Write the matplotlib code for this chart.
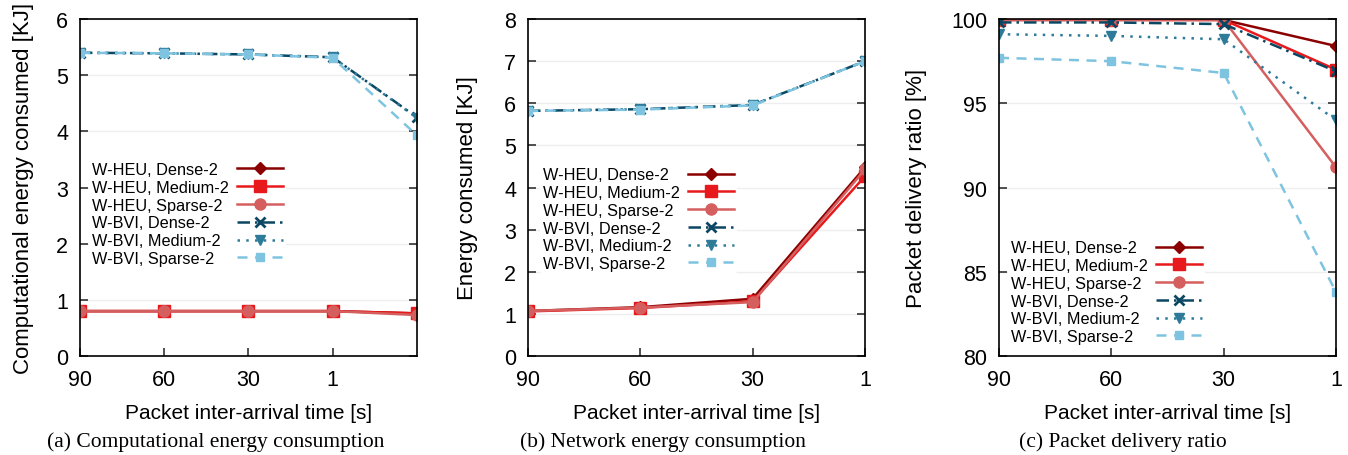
import matplotlib
matplotlib.use('Agg')
import matplotlib.pyplot as plt

plt.rcParams['font.family'] = ['Liberation Sans', 'DejaVu Sans']

labels = ['W-HEU, Dense-2', 'W-HEU, Medium-2', 'W-HEU, Sparse-2',
          'W-BVI, Dense-2', 'W-BVI, Medium-2', 'W-BVI, Sparse-2']
colors = ['#8b0000', '#e8191c', '#d55f5f', '#0b4763', '#2e7b99', '#7ec4e0']
markers = ['D', 's', 'o', 'x', 'v', 's']
styles = ['-', '-', '-', (0, (5, 2, 1, 2)), (0, (1, 2.5)), (0, (4, 3))]
msizes = [6, 8, 8, 7, 7, 6]

tick_labels = ['90', '60', '30', '1']

# (a) computational energy [KJ], 5 points (last one has no tick label)
comp_energy = [
    [0.80, 0.80, 0.80, 0.80, 0.76],
    [0.80, 0.80, 0.80, 0.80, 0.76],
    [0.80, 0.80, 0.80, 0.80, 0.73],
    [5.40, 5.39, 5.37, 5.32, 4.25],
    [5.40, 5.39, 5.37, 5.32, 4.24],
    [5.40, 5.39, 5.37, 5.31, 3.93],
]

# (b) network energy [KJ]
net_energy = [
    [1.07, 1.16, 1.36, 4.48],
    [1.06, 1.14, 1.30, 4.27],
    [1.07, 1.15, 1.28, 4.43],
    [5.82, 5.86, 5.96, 7.00],
    [5.82, 5.86, 5.96, 7.00],
    [5.82, 5.85, 5.95, 7.00],
]

# (c) packet delivery ratio [%]
pdr = [
    [99.95, 99.95, 99.95, 98.4],
    [99.95, 99.95, 99.95, 97.0],
    [99.95, 99.95, 99.95, 91.2],
    [99.8, 99.8, 99.7, 96.9],
    [99.1, 99.0, 98.8, 94.0],
    [97.7, 97.5, 96.8, 83.8],
]

fig = plt.figure(figsize=(13.48, 4.56), dpi=100)
ax_a = fig.add_axes([0.0593, 0.217, 0.25, 0.739])
ax_b = fig.add_axes([0.3917, 0.217, 0.25, 0.739])
ax_c = fig.add_axes([0.7411, 0.217, 0.25, 0.739])
renderer = fig.canvas.get_renderer()


def draw(ax, data, ylim, yticks, ylabel, ylabelpad, legend_anchor):
    for i, series in enumerate(data):
        xs = list(range(len(series)))
        ax.plot(xs, series, color=colors[i], marker=markers[i], linestyle=styles[i],
                linewidth=1.8, markersize=msizes[i], markeredgewidth=2 if markers[i] == 'x' else 1,
                label=labels[i])
    ax.set_xlim(0, len(data[0]) - 1)
    ax.set_ylim(*ylim)
    ax.set_xticks(range(len(tick_labels)))
    ax.set_xticklabels(tick_labels)
    ax.set_yticks(yticks)
    ax.tick_params(direction='in', right=True, top=False, labelsize=15.5, length=6, width=1.2,
                   color='#333333', pad=8.5)
    ax.tick_params(axis='x', pad=9)
    ax.yaxis.grid(True, color='#eeeeee', linewidth=1)
    ax.set_axisbelow(True)
    for s in ax.spines.values():
        s.set_linewidth(1.2)
    ax.set_xlabel('Packet inter-arrival time [s]', fontsize=15, labelpad=10)
    ax.set_ylabel(ylabel, fontsize=16, labelpad=ylabelpad)
    leg = ax.legend(loc='upper left', bbox_to_anchor=legend_anchor, markerfirst=False,
                    fontsize=11.7, handlelength=2.8, handletextpad=0.5, labelspacing=0.17,
                    frameon=True, borderpad=0.2, borderaxespad=0)
    leg.get_frame().set_edgecolor('none')
    leg.get_frame().set_facecolor('white')
    leg.get_frame().set_alpha(1)
    # left-align the label text, keep the line samples in one column on the right
    rows = [r for col in leg._legend_handle_box.get_children() for r in col.get_children()]
    wmax = max(r.get_bbox(renderer).width for r in rows)
    for r in rows:
        r.width = wmax
        r.mode = 'expand'


draw(ax_a, comp_energy, (0, 6), range(0, 7), 'Computational energy consumed [KJ]', 16, (0.027, 0.585))
draw(ax_b, net_energy, (0, 8), range(0, 9), 'Energy consumed [KJ]', 19, (0.036, 0.570))
draw(ax_c, pdr, (80, 100), range(80, 101, 5), 'Packet delivery ratio [%]', 17.5, (0.027, 0.353))

cap_font = ['Liberation Serif', 'DejaVu Serif']
fig.text(0.160, 0.02, '(a) Computational energy consumption', ha='center', fontsize=15.5, family=cap_font)
fig.text(0.492, 0.02, '(b) Network energy consumption', ha='center', fontsize=15.5, family=cap_font)
fig.text(0.833, 0.02, '(c) Packet delivery ratio', ha='center', fontsize=15.5, family=cap_font)

fig.savefig('out.png', dpi=100)
